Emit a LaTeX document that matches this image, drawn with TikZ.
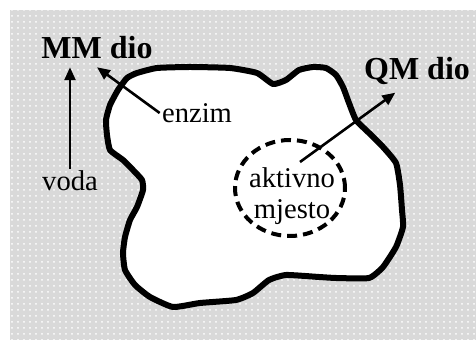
\documentclass[tikz,border=0pt]{standalone}
\usepackage{fontspec}
\setmainfont{Liberation Serif}
\usetikzlibrary{arrows.meta,shapes.geometric,patterns}

\begin{document}
\begin{tikzpicture}[x=0.5pt,y=-0.5pt,
  oznaka/.style={font=\fontsize{14.3}{15.5}\selectfont, inner sep=1pt},
  dio/.style={font=\fontsize{16}{19}\selectfont\bfseries, inner sep=1pt, outer sep=3pt},
  mjesto/.style={ellipse, draw, line width=2pt, dash pattern=on 5pt off 3pt, minimum width=55pt, minimum height=48pt, inner sep=0pt},
  enzimrub/.style={draw, line width=3pt, fill=white, line join=round},
  strelica/.style={-{Triangle[length=6.5pt,width=5.5pt]}, line width=1.3pt}]
  \useasboundingbox (0,0) rectangle (476,340);
  % okolina (voda)
  \fill[black!15] (10,10) rectangle (476,340);
  \fill[pattern=dots, pattern color=white] (10,10) rectangle (476,340);
  % enzim
  \draw[enzimrub] plot[smooth cycle, tension=0.3] coordinates {
    (127,78) (137,73) (157,68) (190,67) (230,68) (257,73) (273,84) (286,80)
    (299,70) (313,67) (326,68) (336,75) (343,87) (349,103) (356,120) (369,133)
    (383,147) (396,163) (400,185) (402,210) (403,227) (396,247) (383,267)
    (369,278) (336,278) (319,277) (286,275) (269,280) (253,293) (236,300)
    (200,303) (173,307) (150,297) (135,285) (125,270) (123,253) (125,237)
    (130,220) (137,207) (143,190) (142,180) (133,170) (123,160) (110,150)
    (107,135) (106,120) (110,105) (118,90)};
  % aktivno mjesto
  \node[mjesto] (site) at (290,188) {};
  \node[oznaka, align=center] (aktivno) at (292,196) {aktivno\\mjesto};
  % oznake
  \node[dio] (MM) at (97,48) {MM dio};
  \node[dio] (QM) at (417,71) {QM dio};
  \node[oznaka] (enzim) at (197,113) {enzim};
  \node[oznaka] (voda) at (70,181) {voda};
  \coordinate (qmpoc) at (300,162);
  % strelice
  \draw[strelica] (voda.north) -- (voda.north |- MM.south);
  \draw[strelica] (enzim.west) -- (MM.south);
  \draw[strelica] (qmpoc) -- (QM.225);
\end{tikzpicture}
\end{document}
